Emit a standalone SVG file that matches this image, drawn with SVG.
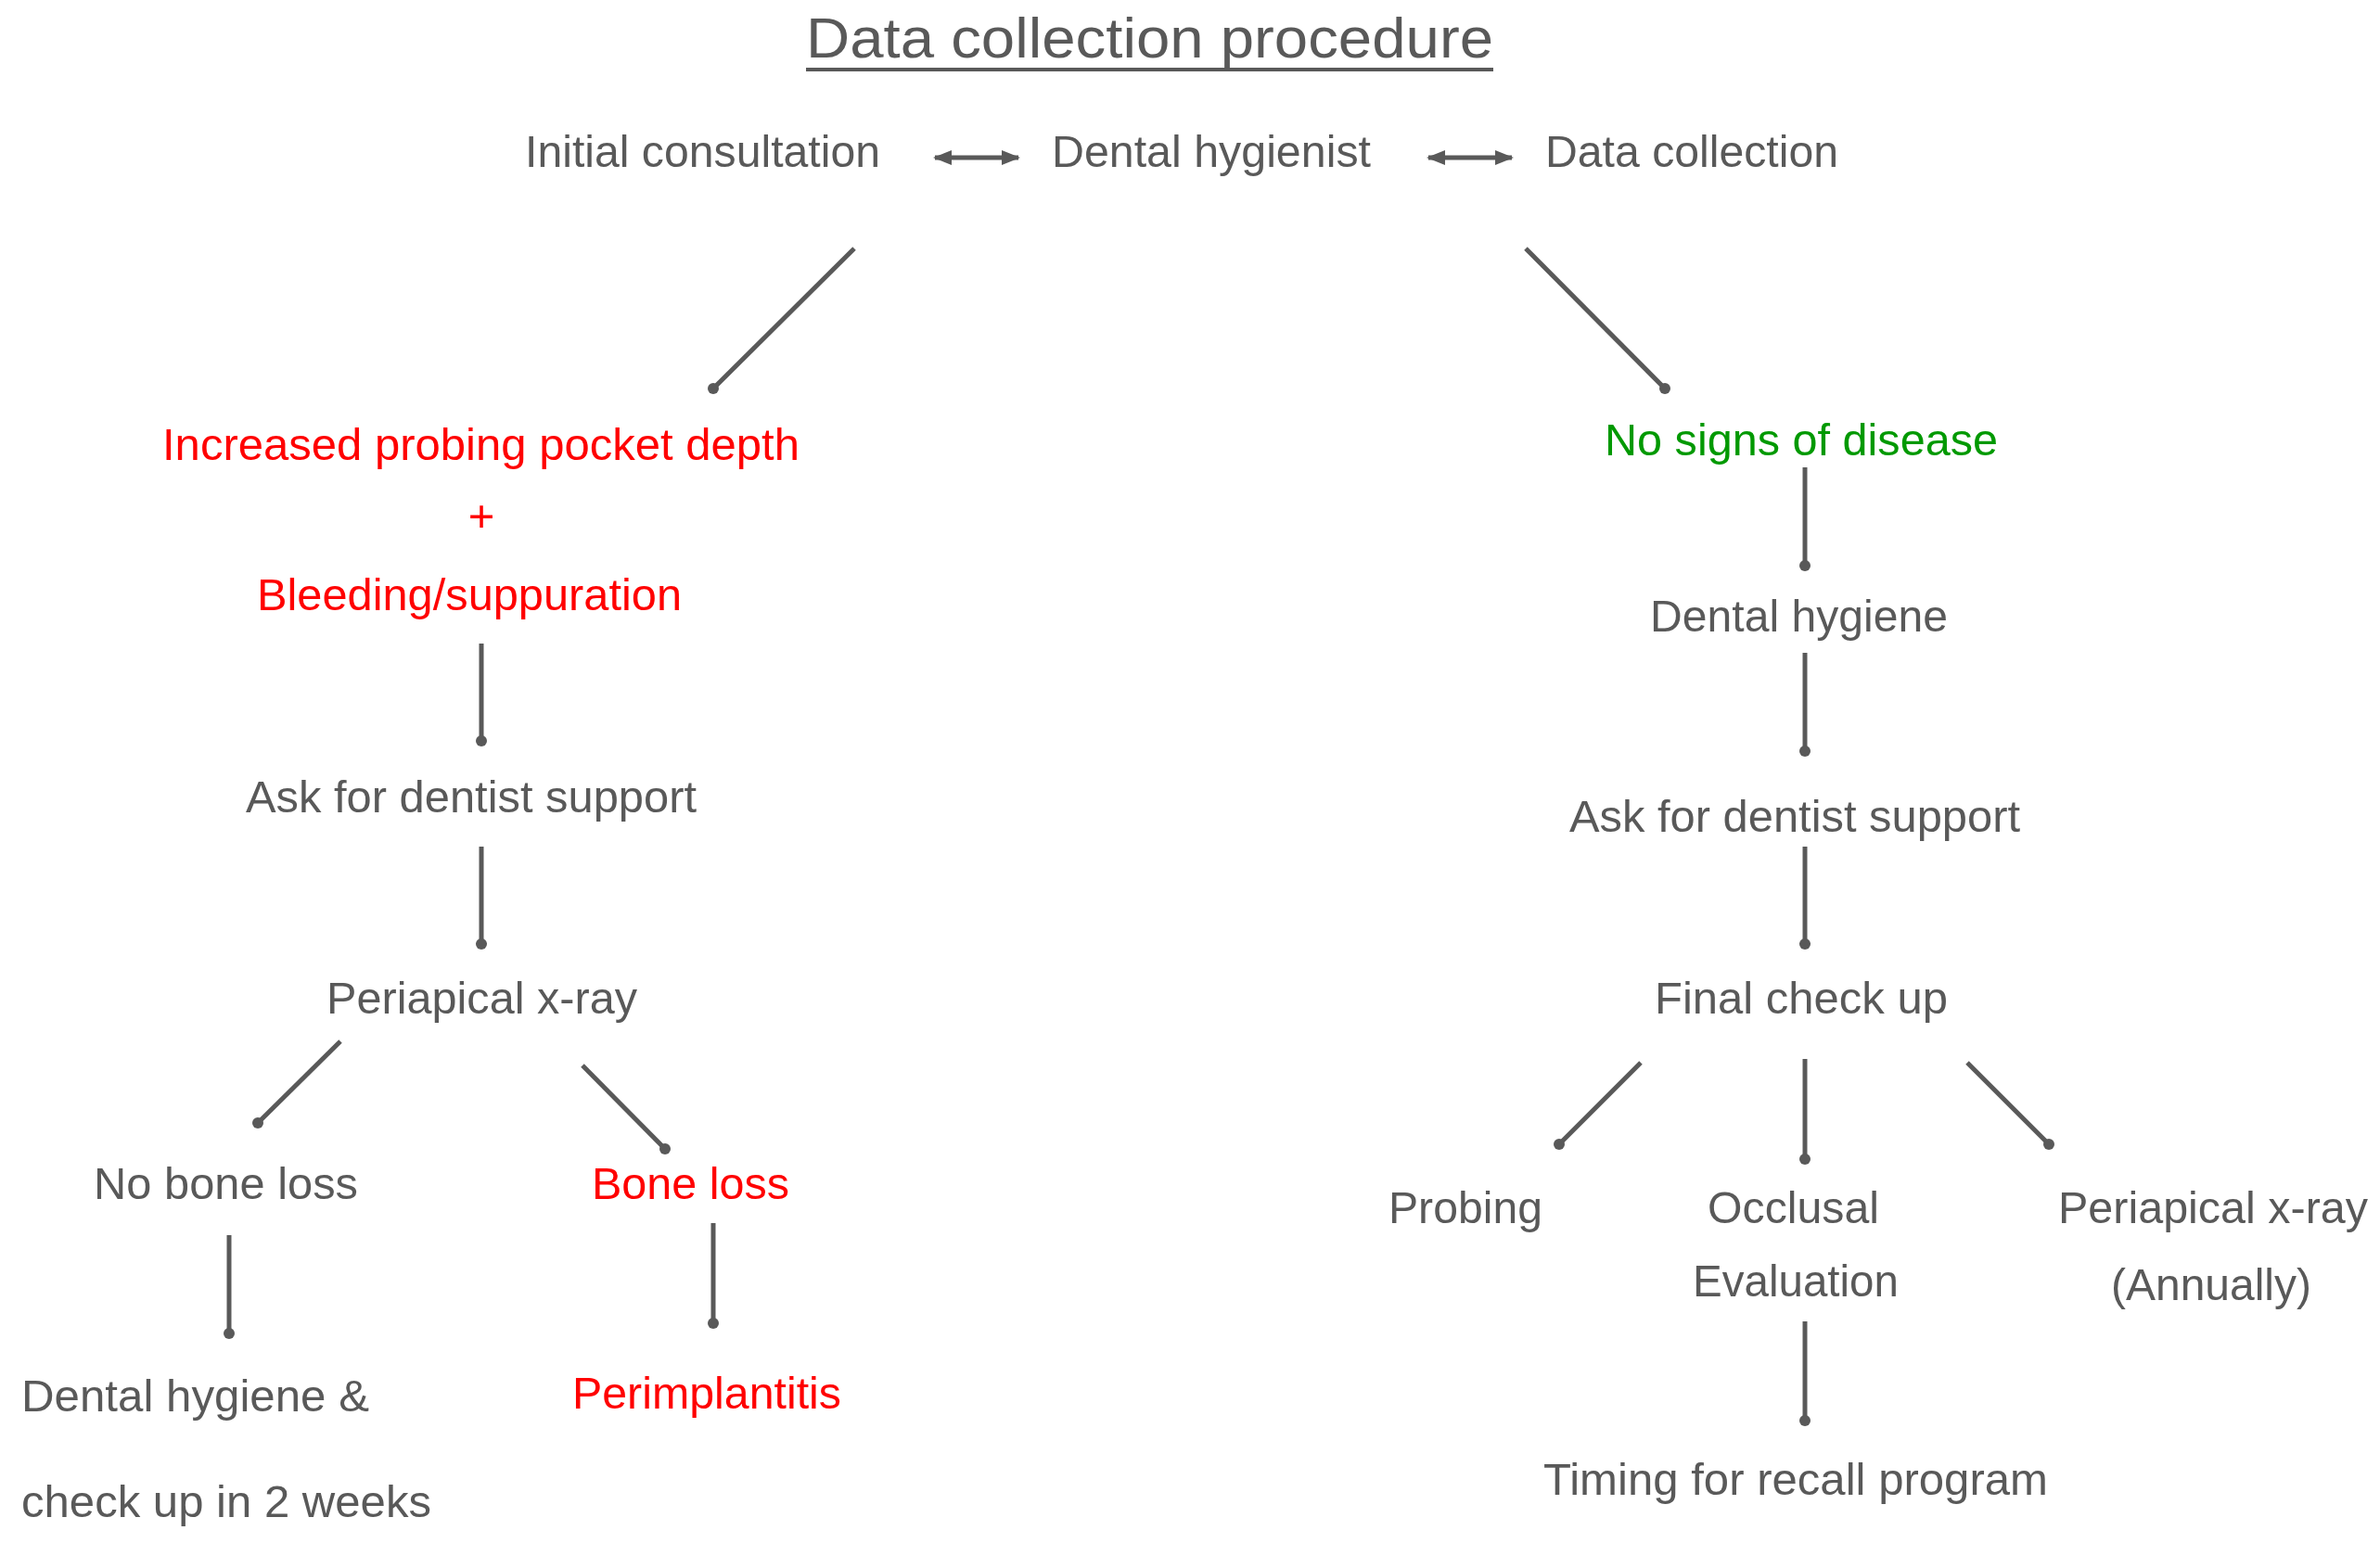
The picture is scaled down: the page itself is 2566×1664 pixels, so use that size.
<svg xmlns="http://www.w3.org/2000/svg" width="2566" height="1664" viewBox="0 0 2566 1664">
<style>
text{font-family:"Liberation Sans",Arial,sans-serif;font-size:49px;fill:#595959}
.r{fill:#ff0000}.g{fill:#009900}
.c line{stroke:#595959;stroke-width:5}
.c circle{fill:#595959}
</style>
<defs>
<marker id="ah" viewBox="0 0 10 10" refX="9" refY="5" markerWidth="4" markerHeight="4" orient="auto-start-reverse"><path d="M0,1 L10,5 L0,9 Z" fill="#595959"/></marker>
</defs>
<rect width="2566" height="1664" fill="#fff"/>
<g id="title"><text x="869" y="62" style="font-size:62px" textLength="741" lengthAdjust="spacingAndGlyphs">Data collection procedure</text><line x1="869" y1="75" x2="1610" y2="75" stroke="#595959" stroke-width="4"/></g>
<g id="n1"><text x="566" y="180" textLength="383" lengthAdjust="spacingAndGlyphs">Initial consultation</text></g>
<g id="n2"><text x="1134" y="180" textLength="344" lengthAdjust="spacingAndGlyphs">Dental hygienist</text></g>
<g id="n3"><text x="1666" y="180" textLength="316" lengthAdjust="spacingAndGlyphs">Data collection</text></g>
<g id="n4"><text class="r" x="175" y="496" textLength="687" lengthAdjust="spacingAndGlyphs">Increased probing pocket depth</text><text class="r" x="519" y="573" text-anchor="middle">+</text><text class="r" x="277" y="658" textLength="458" lengthAdjust="spacingAndGlyphs">Bleeding/suppuration</text></g>
<g id="n5"><text x="265" y="876" textLength="486" lengthAdjust="spacingAndGlyphs">Ask for dentist support</text></g>
<g id="n6"><text x="352" y="1093" textLength="335" lengthAdjust="spacingAndGlyphs">Periapical x-ray</text></g>
<g id="n7"><text x="101" y="1293" textLength="285" lengthAdjust="spacingAndGlyphs">No bone loss</text></g>
<g id="n8"><text class="r" x="638" y="1293" textLength="213" lengthAdjust="spacingAndGlyphs">Bone loss</text></g>
<g id="n9"><text x="23" y="1522" textLength="375" lengthAdjust="spacingAndGlyphs">Dental hygiene &amp;</text><text x="23" y="1636" textLength="442" lengthAdjust="spacingAndGlyphs">check up in 2 weeks</text></g>
<g id="n10"><text class="r" x="617" y="1519" textLength="290" lengthAdjust="spacingAndGlyphs">Perimplantitis</text></g>
<g id="n11"><text class="g" x="1730" y="491" textLength="424" lengthAdjust="spacingAndGlyphs">No signs of disease</text></g>
<g id="n12"><text x="1779" y="681" textLength="321" lengthAdjust="spacingAndGlyphs">Dental hygiene</text></g>
<g id="n13"><text x="1692" y="897" textLength="486" lengthAdjust="spacingAndGlyphs">Ask for dentist support</text></g>
<g id="n14"><text x="1784" y="1093" textLength="316" lengthAdjust="spacingAndGlyphs">Final check up</text></g>
<g id="n15"><text x="1497" y="1319" textLength="166" lengthAdjust="spacingAndGlyphs">Probing</text></g>
<g id="n16"><text x="1841" y="1319" textLength="185" lengthAdjust="spacingAndGlyphs">Occlusal</text><text x="1825" y="1398" textLength="222" lengthAdjust="spacingAndGlyphs">Evaluation</text></g>
<g id="n17"><text x="2219" y="1319" textLength="334" lengthAdjust="spacingAndGlyphs">Periapical x-ray</text><text x="2276" y="1402" textLength="216" lengthAdjust="spacingAndGlyphs">(Annually)</text></g>
<g id="n18"><text x="1664" y="1612" textLength="544" lengthAdjust="spacingAndGlyphs">Timing for recall program</text></g>
<g id="connectors" class="c">
<line x1="1008" y1="170" x2="1098" y2="170" marker-start="url(#ah)" marker-end="url(#ah)"/>
<line x1="1540" y1="170" x2="1630" y2="170" marker-start="url(#ah)" marker-end="url(#ah)"/>
<line x1="921" y1="268" x2="769" y2="419"/><circle cx="769" cy="419" r="6"/>
<line x1="1645" y1="268" x2="1795" y2="419"/><circle cx="1795" cy="419" r="6"/>
<line x1="519" y1="694" x2="519" y2="799"/><circle cx="519" cy="799" r="6"/>
<line x1="519" y1="913" x2="519" y2="1018"/><circle cx="519" cy="1018" r="6"/>
<line x1="367" y1="1123" x2="278" y2="1211"/><circle cx="278" cy="1211" r="6"/>
<line x1="628" y1="1149" x2="717" y2="1239"/><circle cx="717" cy="1239" r="6"/>
<line x1="247" y1="1332" x2="247" y2="1438"/><circle cx="247" cy="1438" r="6"/>
<line x1="769" y1="1319" x2="769" y2="1427"/><circle cx="769" cy="1427" r="6"/>
<line x1="1946" y1="504" x2="1946" y2="610"/><circle cx="1946" cy="610" r="6"/>
<line x1="1946" y1="704" x2="1946" y2="810"/><circle cx="1946" cy="810" r="6"/>
<line x1="1946" y1="913" x2="1946" y2="1018"/><circle cx="1946" cy="1018" r="6"/>
<line x1="1769" y1="1146" x2="1681" y2="1234"/><circle cx="1681" cy="1234" r="6"/>
<line x1="1946" y1="1142" x2="1946" y2="1250"/><circle cx="1946" cy="1250" r="6"/>
<line x1="2121" y1="1146" x2="2209" y2="1234"/><circle cx="2209" cy="1234" r="6"/>
<line x1="1946" y1="1425" x2="1946" y2="1532"/><circle cx="1946" cy="1532" r="6"/>
</g>
</svg>
